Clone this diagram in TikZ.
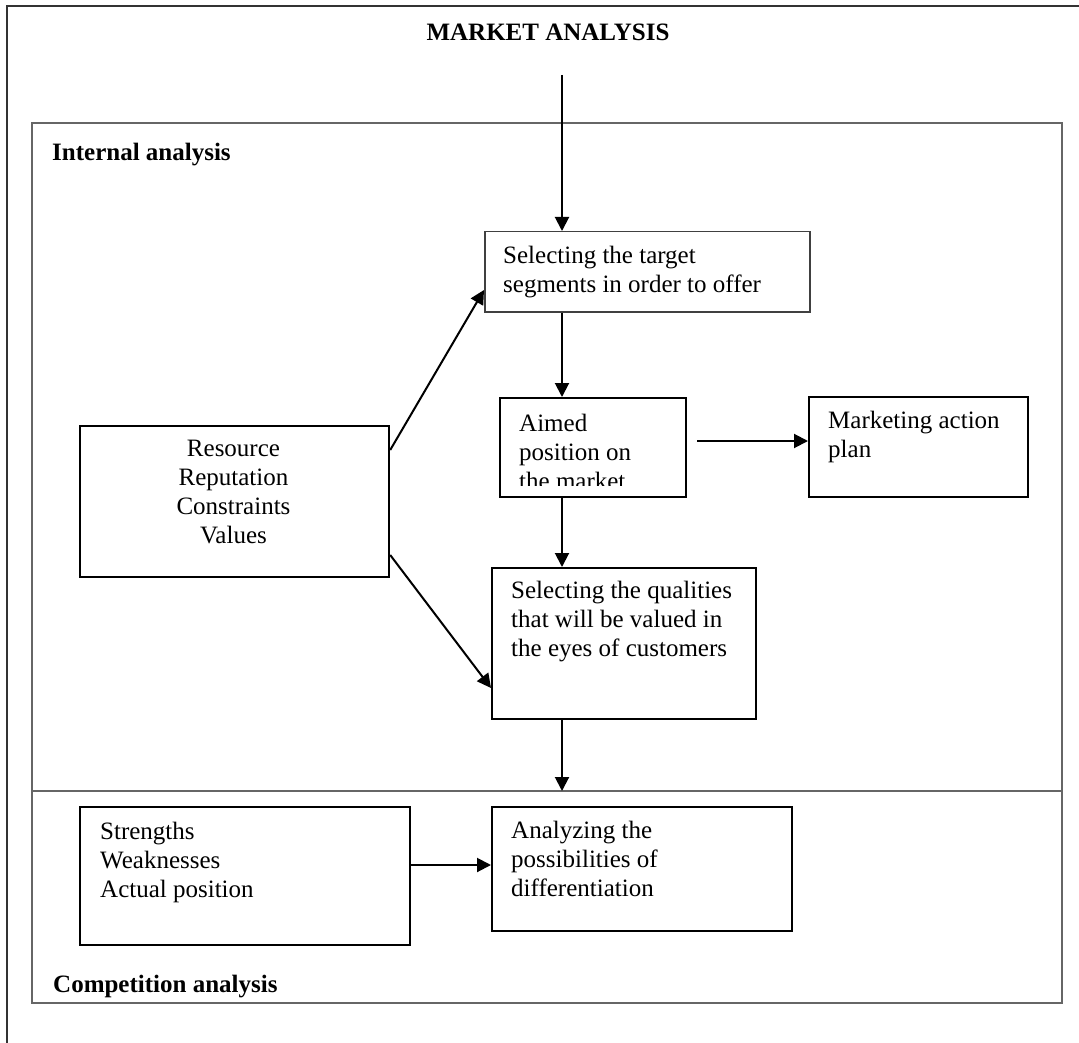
\documentclass[tikz,border=0pt]{standalone}
\usepackage{fontspec}
\setmainfont{Liberation Serif}
\usetikzlibrary{arrows.meta, positioning}

\begin{document}
\begin{tikzpicture}[
    x=1pt, y=-1pt,
    box/.style={rectangle, draw, line width=2.2pt, anchor=north west, inner sep=0pt},
    txt/.style={anchor=base west, align=left, inner sep=0pt, font=\fontsize{25}{29}\selectfont},
    head/.style={anchor=base west, inner sep=0pt, font=\fontsize{25}{29}\selectfont\bfseries},
    frame/.style={draw=black!60, line width=1.5pt},
    arrow/.style={-{Triangle[length=14pt, width=14pt]}, line width=2pt}
]
\useasboundingbox (0,0) rectangle (1079,1043);

% Frames
\draw[frame, draw=black!80] (7,1043) -- (7,6) -- (1079,6);
\draw[frame] (32,123) rectangle (1062,1003);
\coordinate (divl) at (32,791);
\coordinate (divr) at (1062,791);
\draw[frame] (divl) -- (divr);

% Headings
\node[head, anchor=base] (title) at (548,41) {MARKET ANALYSIS};
\node[head] (intl) at (52,161) {Internal analysis};
\node[head] (comp) at (53,992) {Competition analysis};

% Boxes
\node[box, minimum width=309pt, minimum height=151pt] (res) at (79,425) {};
\node[box, draw=black!75, line width=1.5pt, minimum width=325pt, minimum height=80pt] (tgt) at (484,231) {};
\node[box, minimum width=186pt, minimum height=99pt] (aim) at (499,397) {};
\node[box, minimum width=219pt, minimum height=100pt] (mkt) at (808,396) {};
\node[box, minimum width=264pt, minimum height=151pt] (qual) at (491,567) {};
\node[box, minimum width=330pt, minimum height=138pt] (str) at (79,806) {};
\node[box, minimum width=300pt, minimum height=124pt] (ana) at (491,806) {};

% Box texts (placed at the baseline of the last line)
\node[txt, anchor=base, align=center] (res-t) at (233.5,543) {Resource\\Reputation\\Constraints\\Values};
\node[txt] (tgt-t) at (503,292) {Selecting the target\\segments in order to offer};
\begin{scope}
\clip (499,397) rectangle (685,485);
\node[txt] (aim-t) at (519,489) {Aimed\\position on\\the market};
\end{scope}
\node[txt] (mkt-t) at (828,457) {Marketing action\\plan};
\node[txt] (qual-t) at (511,656) {Selecting the qualities\\that will be valued in\\the eyes of customers};
\node[txt] (str-t) at (100,897) {Strengths\\Weaknesses\\Actual position};
\node[txt] (ana-t) at (511,896) {Analyzing the\\possibilities of\\differentiation};

% Arrows
\coordinate (top) at (562,75);
\coordinate (mk-in) at (697,441);
\draw[arrow] (top) -- (top |- tgt.north);
\draw[arrow] (tgt.south -| top) -- (aim.north -| top);
\draw[arrow] (aim.south -| top) -- (qual.north -| top);
\draw[arrow] (qual.south -| top) -- (top |- divl);
\draw[arrow] (mk-in) -- (mkt.west |- mk-in);
\draw[arrow] ([yshift=-25pt]res.north east) -- ([yshift=-59pt]tgt.north west);
\draw[arrow] ([yshift=-130pt]res.north east) -- ([yshift=-121pt]qual.north west);
\draw[arrow] ([yshift=-59pt]str.north east) -- ([yshift=-59pt]ana.north west);
\end{tikzpicture}
\end{document}
